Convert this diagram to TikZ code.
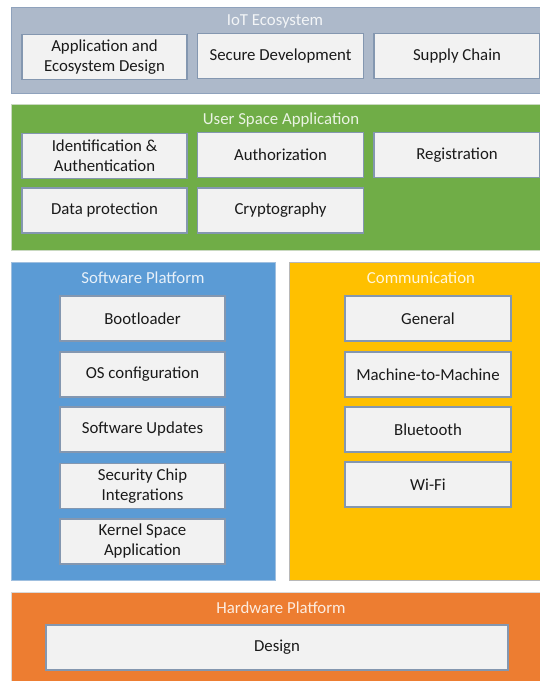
\documentclass[tikz,border=0pt]{standalone}
\usepackage{fontspec}
\setmainfont{Carlito}
\definecolor{iotfill}{HTML}{ADB9CA}
\definecolor{iotdraw}{HTML}{8FA2BC}
\definecolor{usrfill}{HTML}{70AD47}
\definecolor{usrdraw}{HTML}{C9D9C0}
\definecolor{swfill}{HTML}{5B9BD5}
\definecolor{swdraw}{HTML}{9FBFDF}
\definecolor{comfill}{HTML}{FFC000}
\definecolor{comdraw}{HTML}{B8B8B8}
\definecolor{hwfill}{HTML}{ED7D31}
\definecolor{hwdraw}{HTML}{D9D9D9}
\definecolor{boxfill}{HTML}{F2F2F2}
\definecolor{boxdraw}{HTML}{8497B0}
\definecolor{txt}{HTML}{1A1A1A}
\tikzset{
  panel/.style={rectangle, anchor=north west, inner sep=0pt, line width=0.8pt},
  inbox/.style={rectangle, draw=boxdraw, fill=boxfill, line width=1.2pt,
    minimum width=165pt, minimum height=45pt, inner sep=0pt, align=center,
    text=txt, font=\fontsize{16.8}{20}\selectfont},
  ptitle/.style={font=\fontsize{16.8}{20}\selectfont, inner sep=0pt}
}
\begin{document}
\begin{tikzpicture}[x=1pt,y=-1pt]
\useasboundingbox (0,0) rectangle (539,681);
\fill[white] (0,0) rectangle (539,681);
% IoT Ecosystem
\node[panel, draw=iotdraw, fill=iotfill, minimum width=530pt, minimum height=86pt] (iot) at (11,7) {};
\node[ptitle, text=white!85!iotfill] (iott) at (275,21) {IoT Ecosystem};
\node[inbox] (aed) at (104.5,57) {Application and\\Ecosystem Design};
\node[inbox, minimum width=166pt] (sd) at (280.5,56) {Secure Development};
\node[inbox, minimum width=166pt] (sc) at (457,56) {Supply Chain};
% User Space Application
\node[panel, draw=usrdraw, fill=usrfill, minimum width=530pt, minimum height=146pt] (usr) at (11,104) {};
\node[ptitle, text=white!85!usrfill] (usrt) at (281,120) {User Space Application};
\node[inbox] (ia) at (104.5,156) {Identification \&\\Authentication};
\node[inbox, minimum width=166pt] (az) at (280.5,155) {Authorization};
\node[inbox, minimum width=166pt] (rg) at (457,155) {Registration};
\node[inbox] (dp) at (104.5,210.5) {Data protection};
\node[inbox, minimum width=166pt] (cr) at (280.5,210.5) {Cryptography};
% Software Platform
\node[panel, draw=swdraw, fill=swfill, minimum width=264pt, minimum height=318pt] (sw) at (11,262) {};
\node[ptitle, text=white!85!swfill] (swt) at (143,278) {Software Platform};
\node[inbox] (bl) at (142.5,318.5) {Bootloader};
\node[inbox] (os) at (142.5,374.5) {OS configuration};
\node[inbox] (su) at (142.5,429.5) {Software Updates};
\node[inbox] (scI) at (142.5,486) {Security Chip\\Integrations};
\node[inbox] (ks) at (142.5,541.5) {Kernel Space\\Application};
% Communication
\node[panel, draw=comdraw, fill=comfill, minimum width=252pt, minimum height=318pt] (com) at (289,262) {};
\node[ptitle, text=white!85!comfill] (comt) at (421,278) {Communication};
\node[inbox, minimum width=166pt] (gen) at (428,318.5) {General};
\node[inbox, minimum width=166pt] (m2m) at (428,374.5) {Machine-to-Machine};
\node[inbox, minimum width=166pt] (bt) at (428,429.5) {Bluetooth};
\node[inbox, minimum width=166pt] (wf) at (428,484.5) {Wi-Fi};
% Hardware Platform
\node[panel, draw=hwdraw, fill=hwfill, minimum width=530pt, minimum height=92pt] (hw) at (11,592) {};
\node[ptitle, text=white!85!hwfill] (hwt) at (281,608) {Hardware Platform};
\node[inbox, minimum width=462pt] (des) at (277,647.5) {Design};
\end{tikzpicture}
\end{document}
